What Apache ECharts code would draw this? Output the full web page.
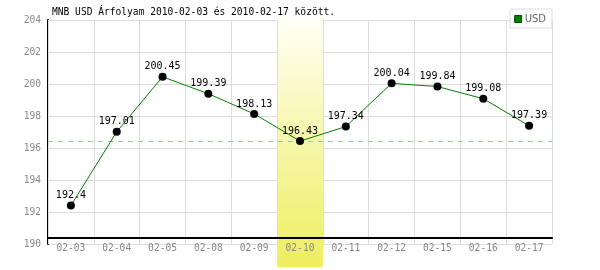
<!DOCTYPE html>
<html><head><meta charset="utf-8">
<script src="https://cdn.jsdelivr.net/npm/echarts@6/dist/echarts.min.js"></script>
<style>html,body{margin:0;padding:0;background:#fff}#c{width:600px;height:270px}</style>
</head><body><div id="c"></div>
<script>
var categories = ['02-03','02-04','02-05','02-08','02-09','02-10','02-11','02-12','02-15','02-16','02-17'];
var usdValues = [192.4, 197.01, 200.45, 199.39, 198.13, 196.43, 197.34, 200.04, 199.84, 199.08, 197.39];
var highlightDay = '02-10';
var referenceValue = 196.43;
var yTicks = {min: 190, max: 204, interval: 2};
var titleText = 'MNB USD Árfolyam 2010-02-03 és 2010-02-17 között.';

var mono = 'DejaVu Sans Mono, monospace';
var chart = echarts.init(document.getElementById('c'), null, {renderer: 'canvas'});
chart.setOption({
  animation: false,
  backgroundColor: '#fff',
  title: {text: titleText, left: 52, top: 7, padding: 0,
    textStyle: {fontFamily: mono, fontSize: 9.6, fontWeight: 'normal', color: '#000'}},
  legend: {
    data: [{name: 'USD', icon: 'rect', itemStyle: {color: '#008000', borderColor: '#005000', borderWidth: 1}}],
    right: 48, top: 9, padding: [5, 6, 4, 4], itemWidth: 7, itemHeight: 7, itemGap: 2,
    backgroundColor: '#fff', borderColor: '#dddddd', borderWidth: 1, borderRadius: 0,
    textStyle: {fontFamily: 'DejaVu Sans, sans-serif', fontSize: 10, color: '#666', padding: [0, 0, 0, -2]}
  },
  grid: [
    {left: 48, right: 48, top: 20, bottom: 26},
    {left: 48, right: 48, top: 17, bottom: 3}
  ],
  xAxis: [
    {type: 'category', data: categories, gridIndex: 0, boundaryGap: true, z: 3, offset: -6,
      axisLine: {show: true, lineStyle: {color: '#000', width: 2}},
      axisTick: {show: false},
      axisLabel: {color: '#888', fontFamily: mono, fontSize: 9.6, margin: 5},
      splitLine: {show: true, interval: 0, lineStyle: {color: '#dddddd', width: 1}}},
    {type: 'category', data: categories, gridIndex: 1, show: false}
  ],
  yAxis: [
    {type: 'value', gridIndex: 0, min: yTicks.min, max: yTicks.max, interval: yTicks.interval, z: 0,
      axisLine: {show: true, lineStyle: {color: '#000', width: 2}},
      axisTick: {show: false},
      axisLabel: {color: '#888', fontFamily: mono, fontSize: 9.6, margin: 7},
      splitLine: {show: true, lineStyle: {color: '#dddddd', width: 1}}},
    {type: 'value', gridIndex: 1, min: 0, max: 1, show: false}
  ],
  series: [
    {type: 'bar', name: 'highlight', xAxisIndex: 1, yAxisIndex: 1, z: 1, silent: true,
      barWidth: '100%',
      data: categories.map(function(c){ return c === highlightDay ? 1 : '-'; }),
      itemStyle: {color: new echarts.graphic.LinearGradient(0, 0, 0, 1, [
        {offset: 0, color: '#fffff6'}, {offset: 1, color: '#eeee5e'}])}},
    {type: 'line', name: 'USD', xAxisIndex: 0, yAxisIndex: 0, z: 5,
      data: usdValues, symbol: 'circle', symbolSize: 8,
      lineStyle: {color: '#008000', width: 1},
      itemStyle: {color: '#000'},
      label: {show: true, position: 'top', distance: 1, color: '#000', fontFamily: mono, fontSize: 10},
      markLine: {silent: true, symbol: 'none', label: {show: false},
        lineStyle: {color: '#99cc99', type: [5, 5], width: 1},
        data: [{yAxis: referenceValue}]}}
  ]
});
</script></body></html>
